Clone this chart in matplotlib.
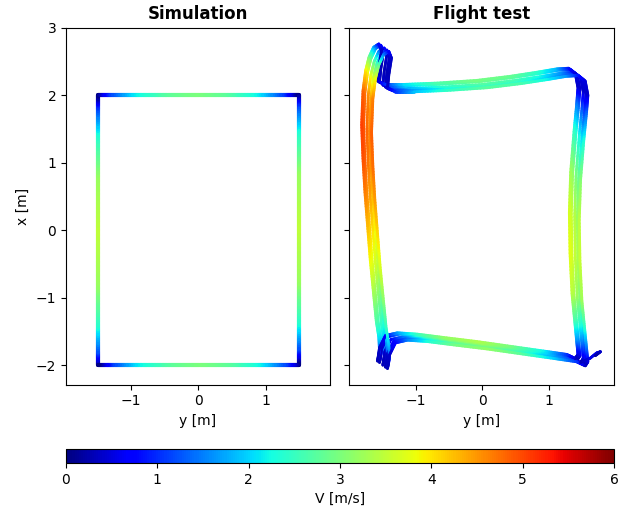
import numpy as np
import matplotlib
matplotlib.use("Agg")
import matplotlib.pyplot as plt
from matplotlib.collections import LineCollection
from matplotlib.colors import Normalize

# ---- Simulated lap: (x north, y east, speed) along the rectangle ----
sim_x = [-2.0, -1.8, -1.4, -0.8, 0.0, 0.8, 1.4, 1.8, 2.0,
         2.0, 2.0, 2.0, 2.0, 2.0, 2.0, 2.0, 2.0,
         1.8, 1.4, 0.8, 0.0, -0.8, -1.4, -1.8, -2.0,
         -2.0, -2.0, -2.0, -2.0, -2.0, -2.0, -2.0, -2.0]
sim_y = [-1.5, -1.5, -1.5, -1.5, -1.5, -1.5, -1.5, -1.5, -1.5,
         -1.3, -0.9, -0.4, 0.0, 0.4, 0.9, 1.3, 1.5,
         1.5, 1.5, 1.5, 1.5, 1.5, 1.5, 1.5, 1.5,
         1.3, 0.9, 0.4, 0.0, -0.4, -0.9, -1.3, -1.5]
sim_v = [0.0, 1.2, 2.4, 3.2, 3.5, 3.2, 2.4, 1.2, 0.0,
         1.1, 2.2, 2.8, 3.0, 2.8, 2.2, 1.1, 0.0,
         1.2, 2.4, 3.2, 3.5, 3.2, 2.4, 1.2, 0.0,
         1.1, 2.2, 2.8, 3.0, 2.8, 2.2, 1.1, 0.0]

# ---- Nominal flight-test lap (x, y, speed) ----
lap_x = [-2.00, -1.85, -1.65, -1.40, -1.00, -0.50, 0.00, 0.50, 1.00, 1.50,
         2.00, 2.30, 2.50, 2.65, 2.70, 2.60, 2.35, 2.15,
         2.10, 2.10, 2.12, 2.16, 2.22, 2.28, 2.33, 2.34, 2.26, 2.05,
         1.80, 1.40, 0.80, 0.20, -0.40, -1.00, -1.40, -1.70, -1.90, -1.96,
         -1.90, -1.85, -1.78, -1.71, -1.65, -1.60, -1.58, -1.62, -1.80, -2.00]
lap_y = [-1.50, -1.47, -1.48, -1.52, -1.56, -1.61, -1.65, -1.69, -1.72, -1.74,
         -1.72, -1.68, -1.63, -1.56, -1.48, -1.44, -1.48, -1.50,
         -1.38, -1.10, -0.60, 0.00, 0.50, 0.90, 1.20, 1.38, 1.48, 1.52,
         1.50, 1.46, 1.41, 1.39, 1.40, 1.43, 1.47, 1.50, 1.52, 1.48,
         1.35, 1.00, 0.50, 0.00, -0.50, -0.90, -1.20, -1.38, -1.47, -1.50]
lap_v = [0.3, 1.0, 1.8, 2.4, 3.0, 3.6, 4.0, 4.4, 4.7, 4.8,
         4.6, 3.8, 2.8, 1.6, 0.8, 0.4, 0.3, 0.4,
         1.0, 1.8, 2.4, 2.7, 2.6, 2.2, 1.6, 0.9, 0.5, 0.4,
         1.2, 2.2, 3.0, 3.4, 3.5, 3.2, 2.4, 1.4, 0.6, 0.3,
         1.0, 1.9, 2.7, 3.1, 2.9, 2.3, 1.5, 0.8, 0.4, 0.3]

# lap-to-lap drift of the flown path and speed
lap_dx = [0.00, 0.04, -0.03, 0.06, -0.05]
lap_dy = [0.00, -0.05, 0.04, -0.08, 0.07]
lap_dv = [0.0, 0.15, -0.15, 0.25, 0.05]

# short hook flown past the bottom-right corner
hook_x = [-1.96, -1.90, -1.82, -1.80, -1.86]
hook_y = [1.48, 1.62, 1.72, 1.78, 1.70]
hook_v = [0.3, 0.5, 0.6, 0.4, 0.2]

cmap = plt.get_cmap("jet")
norm = Normalize(0, 6)


def shaded_path(ax, xs, ys, vs, lw, sub=12):
    """Draw a polyline whose colour blends between the speeds at its vertices."""
    xs, ys, vs = map(np.asarray, (xs, ys, vs))
    segs, cols = [], []
    for i in range(len(xs) - 1):
        t = np.linspace(0, 1, sub + 1)
        px = xs[i] + (xs[i + 1] - xs[i]) * t
        py = ys[i] + (ys[i + 1] - ys[i]) * t
        pv = vs[i] + (vs[i + 1] - vs[i]) * t
        for j in range(sub):
            segs.append([(py[j], px[j]), (py[j + 1], px[j + 1])])
            cols.append(0.5 * (pv[j] + pv[j + 1]))
    lc = LineCollection(segs, cmap=cmap, norm=norm, linewidths=lw,
                        capstyle="round", joinstyle="round")
    lc.set_array(np.asarray(cols))
    ax.add_collection(lc)
    return lc


fig = plt.figure(figsize=(6.26, 5.13), dpi=100)
ax1 = fig.add_axes([0.1054, 0.2500, 0.4210, 0.6960])
ax2 = fig.add_axes([0.5575, 0.2500, 0.4230, 0.6960], sharey=ax1)
cax = fig.add_axes([0.1054, 0.0975, 0.8754, 0.0273])

mappable = shaded_path(ax1, sim_x, sim_y, sim_v, lw=3.0)

for dx, dy, dv in zip(lap_dx, lap_dy, lap_dv):
    xs = np.asarray(lap_x) + dx
    ys = np.asarray(lap_y) + dy
    vs = np.clip(np.asarray(lap_v) + dv * (np.asarray(lap_v) > 1.0), 0, 6)
    shaded_path(ax2, xs, ys, vs, lw=2.0)
shaded_path(ax2, hook_x, hook_y, hook_v, lw=2.0)

ax1.set_xlim(-1.97, 1.95)
ax2.set_xlim(-2.01, 1.98)
ax1.set_ylim(-2.29, 3.0)

for ax in (ax1, ax2):
    ax.set_xticks([-1, 0, 1])
    ax.set_xlabel("y [m]", fontsize=10)
    ax.tick_params(labelsize=10)
ax1.set_yticks([-2, -1, 0, 1, 2, 3])
ax1.set_ylabel("x [m]", fontsize=10)
plt.setp(ax2.get_yticklabels(), visible=False)

ax1.set_title("Simulation", fontsize=12, fontweight="bold")
ax2.set_title("Flight test", fontsize=12, fontweight="bold")

cb = fig.colorbar(mappable, cax=cax, orientation="horizontal")
cb.set_ticks([0, 1, 2, 3, 4, 5, 6])
cb.set_label("V [m/s]", fontsize=10)
cb.ax.tick_params(labelsize=10)

fig.savefig("out.png", dpi=100)
